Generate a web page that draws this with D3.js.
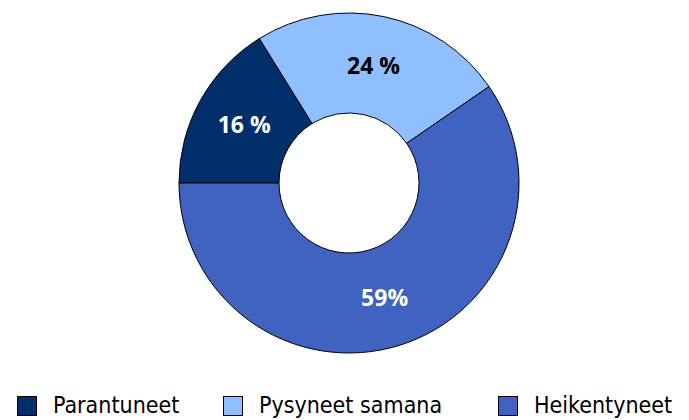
<!DOCTYPE html>
<html>
<head>
<meta charset="utf-8">
<script src="https://cdn.jsdelivr.net/npm/d3@7"></script>
<style>
  html, body { margin: 0; padding: 0; background: #fff; }
  svg { display: block; }
</style>
</head>
<body>
<div id="chart"></div>
<script>
// data
var categories = ["Parantuneet", "Pysyneet samana", "Heikentyneet"];
var values = [16, 24, 59];
var labels = ["16 %", "24 %", "59%"];
var colors = ["#002f6c", "#8fbfff", "#4062c0"];
var labelColors = ["#ffffff", "#000000", "#ffffff"];

var width = 689, height = 420;
var cx = 349, cy = 183;
var outerR = 170, innerR = 70;

var svg = d3.select("#chart").append("svg")
    .attr("width", width)
    .attr("height", height);

var pie = d3.pie()
    .sort(null)
    .startAngle(-Math.PI / 2)
    .endAngle(Math.PI * 1.5)
    .value(function(d) { return d; });

var arc = d3.arc()
    .innerRadius(innerR)
    .outerRadius(outerR);

var arcs = pie(values);

var g = svg.append("g")
    .attr("transform", "translate(" + cx + "," + cy + ")");

g.selectAll("path.slice")
    .data(arcs)
    .enter().append("path")
    .attr("class", "slice")
    .attr("d", arc)
    .attr("fill", function(d, i) { return colors[i]; })
    .attr("stroke", "#000")
    .attr("stroke-width", 1);

g.selectAll("text.lbl")
    .data(arcs)
    .enter().append("text")
    .attr("class", "lbl")
    .attr("transform", function(d) { return "translate(" + arc.centroid(d) + ")"; })
    .attr("text-anchor", "middle")
    .attr("dy", "0.36em")
    .attr("font-family", "'Open Sans', 'Noto Sans', sans-serif")
    .attr("font-weight", "bold")
    .attr("font-size", "23px")
    .attr("fill", function(d, i) { return labelColors[i]; })
    .text(function(d, i) { return labels[i]; });

// legend
var legendX = [17, 223, 498];
var legend = svg.selectAll("g.leg")
    .data(categories)
    .enter().append("g")
    .attr("class", "leg")
    .attr("transform", function(d, i) { return "translate(" + legendX[i] + ",396)"; });

legend.append("rect")
    .attr("x", 0.5)
    .attr("y", 0.5)
    .attr("width", 19)
    .attr("height", 19)
    .attr("fill", function(d, i) { return colors[i]; })
    .attr("stroke", "#000")
    .attr("stroke-width", 1);

legend.append("text")
    .attr("x", 36)
    .attr("y", 17)
    .attr("font-family", "'Liberation Sans Narrow', 'DejaVu Sans Condensed', sans-serif")
    .attr("font-size", "23px")
    .attr("fill", "#000")
    .text(function(d) { return d; });
</script>
</body>
</html>
